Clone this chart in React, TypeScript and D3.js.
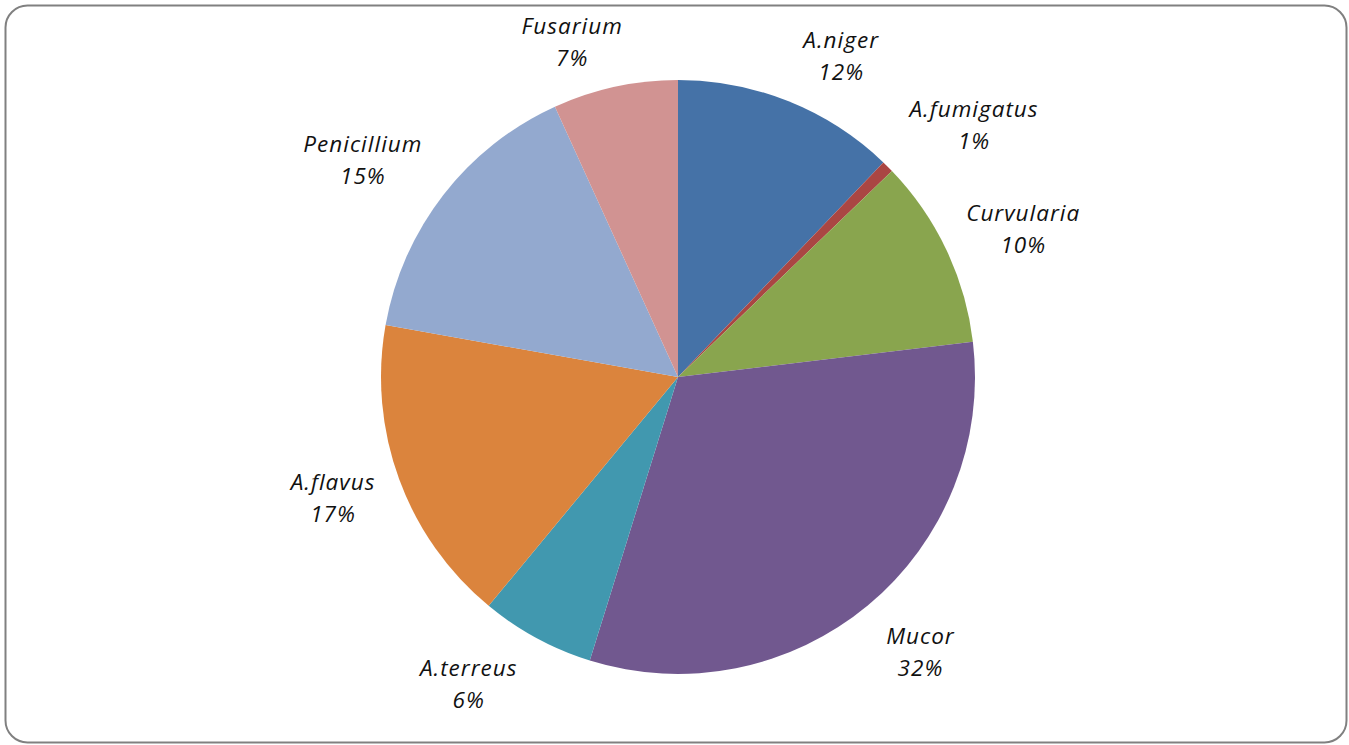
import React from "react";
import * as d3 from "d3";

const categories = ["A.niger", "A.fumigatus", "Curvularia", "Mucor", "A.terreus", "A.flavus", "Penicillium", "Fusarium"];
const values = [12.15, 0.65, 10.3, 31.7, 6.2, 16.8, 15.4, 6.8];
const colors = ["#4572A7", "#AA4643", "#89A54E", "#71588F", "#4198AF", "#DB843D", "#93A9CF", "#D19392"];
// label placement tweaks (degrees added to slice mid-angle, radial distance of label block centre)
const labelAngleNudge = [5, 4.7, 2.2, -1.6, 5.9, 0.9, -3.3, -5.4];
const labelRadius = [360, 388, 375, 366, 372, 366, 383, 351];

const W = 1349;
const H = 745;
const cx = 678;
const cy = 377;
const R = 297;

export default function App() {
  const total = d3.sum(values);
  const pie = d3.pie<number>().sort(null).value((d) => d).startAngle(0).endAngle(2 * Math.PI);
  const arcs = pie(values);
  const arc = d3.arc<d3.PieArcDatum<number>>().innerRadius(0).outerRadius(R);
  const fmt = (v: number) => `${Math.round((v / total) * 100)}%`;

  return (
    <svg width={W} height={H} style={{ position: "absolute", left: 0, top: 0 }}>
      <rect x={0} y={0} width={W} height={H} fill="#fff" />
      <rect x={5.5} y={5.5} width={1341} height={737} rx={22} ry={22} fill="#fff" stroke="#808080" strokeWidth={2} />
      <g transform={`translate(${cx},${cy})`}>
        {arcs.map((a, i) => (
          <path key={categories[i]} d={arc(a) || ""} fill={colors[i]} />
        ))}
        {arcs.map((a, i) => {
          const mid = (a.startAngle + a.endAngle) / 2 + (labelAngleNudge[i] * Math.PI) / 180;
          const r = labelRadius[i];
          const x = Math.sin(mid) * r;
          const y = -Math.cos(mid) * r;
          return (
            <text
              key={"l" + i}
              x={x}
              y={y}
              textAnchor="middle"
              fontFamily="'Open Sans', sans-serif"
              fontStyle="italic"
              fontSize={22.5}
              letterSpacing={1}
              fill="#111"
            >
              <tspan x={x + 0.5} y={y - 16} dy="0.35em">{categories[i]}</tspan>
              <tspan x={x + 0.5} y={y + 16} dy="0.35em">{fmt(values[i])}</tspan>
            </text>
          );
        })}
      </g>
    </svg>
  );
}
